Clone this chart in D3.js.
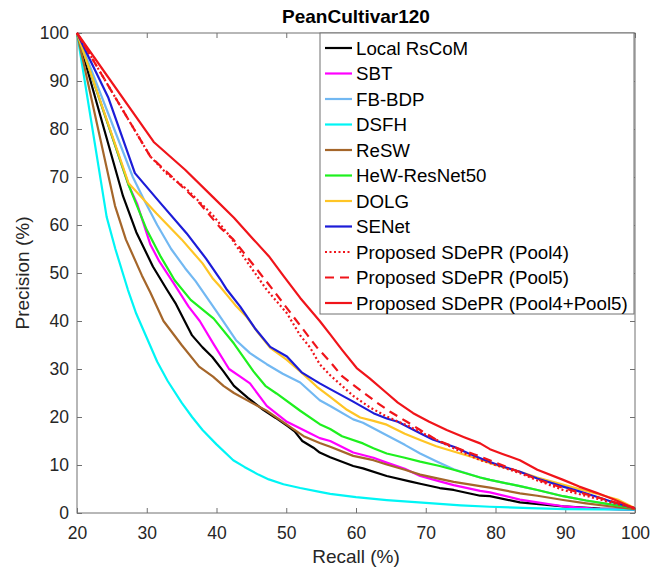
<!DOCTYPE html>
<html>
<head>
<meta charset="utf-8">
<script src="https://cdn.jsdelivr.net/npm/d3@7"></script>
<style>
  body { margin: 0; background: #ffffff; }
  text { font-family: "Liberation Sans", Arial, Helvetica, sans-serif; }
</style>
</head>
<body>
<div id="chart"></div>
<script>

//////////////////////////////////////////////////////////////////////////////
// Data: [recall %, precision %]

var localRsCoM = [[20,100],[26.6,66],[28.5,58.5],[30.9,51.3],[32.9,46.5],[34.2,43.5],[36.5,37],
    [38,34.5],[39.4,32.5],[41,29.5],[42.5,26.5],[44.5,24],[46.7,21.5],[48.5,19.8],[50.3,18],
    [51.2,17],[52.3,15],[53.9,13.6],[54.8,12.6],[56.3,11.6],[59.6,9.8],[61,9.3],[64.4,7.7],
    [67.7,6.6],[69.2,6.1],[72,5.2],[74,4.8],[77.8,3.6],[79.2,3.5],[83.5,2.2],[89.7,1.4],
    [95,0.9],[100,0.7]];

var sbt = [[20,100],[27.4,68.3],[28.6,64.5],[30.5,56],[31.8,52.4],[33.8,48],[36,43],[37.6,40],
    [39.5,35.4],[41.8,30],[43.3,28.5],[44.8,27],[47.2,22.3],[50.1,19],[53.4,16.6],[54.8,15.6],
    [56.3,15],[59.6,12.6],[62.5,11.5],[64.4,10.5],[67,9.2],[69.2,7.7],[72,6.6],[74,5.8],
    [77.8,4.6],[79.2,4.3],[83.5,2.8],[86,2.2],[89.7,1.4],[94,0.9],[100,0.7]];

var fbBdp = [[20,100],[28,70],[29.7,65],[31.5,60],[33.5,55],[35.5,51],[37,48.3],[40,42],
    [42.8,36],[44.8,33.3],[47.2,31],[49.5,29],[52,27.2],[54.8,23.5],[56.3,22.3],[59.6,19.5],
    [61,18.8],[64.4,16.2],[67,14.2],[69.2,12.4],[71.5,10.8],[74,9.1],[77.8,7.4],[79.2,6.9],
    [83.5,5.6],[86,4.8],[89.7,3.5],[93,2.6],[96.9,1.7],[100,1]];

var dsfh = [[20,100],[24.25,61.7],[25.5,55],[27.3,46.5],[28.5,41.5],[30,36.5],[31.5,31.5],
    [33,27.5],[35,23],[36.5,20],[38,17.3],[40,14.3],[42.4,11],[44,9.6],[46,8],[47.5,7],
    [49.6,6],[52,5.2],[54.8,4.4],[56.3,4],[60,3.3],[64.4,2.7],[70,2.1],[75,1.6],[79.2,1.3],
    [85,1],[90,0.8],[100,0.7]];

var resw = [[20,100],[25.45,64],[27,57],[29.3,49.5],[30.5,46],[32.4,40],[35,35],[37.5,30.5],
    [39.5,28.4],[41,26.5],[42.5,25],[45,23],[47.2,21.3],[50.5,18],[52.5,16],[54.8,14.6],
    [56.3,13.8],[59.6,11.9],[62.5,11],[64.4,10.1],[67,9],[69.2,8],[72,7.1],[74,6.5],
    [77.8,5.6],[79.2,5.3],[83.5,4.1],[86,3.6],[89.7,2.7],[93,2],[96.9,1.3],[100,0.8]];

var hewResNet50 = [[20,100],[27.4,68.3],[30,59],[32,53.4],[34,48.5],[36.3,44.4],[39.6,40.5],
    [42.5,35.3],[45.3,29.5],[47,26.5],[48.6,24.9],[52,21.3],[54.8,18.5],[56.3,17.5],[58,16],
    [61,14.5],[62.5,13.5],[64.4,12.4],[67,11.5],[69.2,10.7],[72,9.8],[74,9],[77.8,7.4],
    [79.2,6.9],[83.5,5.6],[86,4.8],[89.7,3.5],[93,2.6],[96.9,1.7],[100,1]];

var dolg = [[20,100],[27.4,68.7],[31.4,62.4],[35,57],[38,52],[39.5,48.8],[40.5,47.2],
    [42.7,43.3],[44.3,40.9],[46,37.5],[47.7,34.4],[50,32],[52,29.5],[54.4,26.3],[56.3,24.2],
    [58.7,21.5],[60.6,19.9],[62.5,19.2],[64.4,18.4],[67,16.5],[69.2,15.2],[71.5,13.9],
    [74,12.8],[77,11.5],[80,10],[83.5,8.6],[86,7.4],[90.7,5.5],[94.5,4],[97.5,2.8],[100,1]];

var seNet = [[20,100],[24.5,86.5],[28.3,70.8],[32,64.5],[35.7,58.3],[38.5,53],[40.5,48.8],
    [41.5,46.5],[43.4,43],[45.5,38.5],[47.7,34.6],[50.1,32.6],[52.2,29.3],[54.8,27],
    [56.3,25.8],[59.6,23.2],[62.5,20.8],[64.4,19.7],[66,19],[69.2,16.6],[71,15.3],[74,13.8],
    [76,12.5],[78.7,10.9],[81,9.7],[83.5,8.6],[86,7.2],[89.7,5.5],[92,4.5],[94.5,3.4],
    [97,2.2],[100,1]];

var sdeprPool4 = [[20,100],[30.5,74.3],[33,70.5],[35.7,67.5],[39.5,62],[42,57.5],[44.3,52.5],
    [47.2,46.5],[50.1,41.6],[52,37],[53.4,34.5],[54.8,31],[56.3,28.7],[59.6,24.4],[62,22],
    [64.4,20.1],[67.7,18],[70.6,15.9],[74,13.5],[77.8,11],[79.2,10.4],[83.5,8.3],[86,6.8],
    [89.7,4.8],[94.5,3],[97,2],[100,1]];

var sdeprPool5 = [[20,100],[30.5,74.3],[34,69.5],[37.6,64.5],[40.5,59.5],[42.4,57],[44.3,53.5],
    [46.2,50],[48.1,46.5],[51.5,40],[54.4,34.5],[56.3,31.5],[58,28.5],[60.6,25.6],[63,23],
    [64.9,21.1],[67.3,19],[69.2,17.3],[71.6,15.2],[74,13.8],[77,12.2],[80,10.5],[83.5,8.5],
    [86,7],[89.7,5.2],[94.5,3.3],[97,2.3],[100,1]];

var sdeprPool45 = [[20,100],[31,77.3],[35.5,71.5],[39.5,65.8],[42.5,61.5],[45.3,57],[47.5,53.5],
    [49.6,49.4],[52,44.8],[54.8,40],[56.3,37.2],[58,34],[60.1,30.2],[62,28],[64.4,25],[66,23],
    [68.2,20.8],[70.5,19],[73,17.3],[75.5,15.8],[77.8,14.5],[79.2,13.3],[81,12.3],[83.5,11],
    [86,9],[89.7,6.9],[92,5.5],[94.5,4.2],[97,2.8],[100,0.9]];

var seriesNames = ["Local RsCoM", "SBT", "FB-BDP", "DSFH", "ReSW", "HeW-ResNet50", "DOLG",
    "SENet", "Proposed SDePR (Pool4)", "Proposed SDePR (Pool5)", "Proposed SDePR (Pool4+Pool5)"];
var seriesData = [localRsCoM, sbt, fbBdp, dsfh, resw, hewResNet50, dolg, seNet,
    sdeprPool4, sdeprPool5, sdeprPool45];
var seriesColors = ["#000000", "#ff00ff", "#72b8f2", "#00f5f5", "#a5662a", "#1ef01e", "#ffc525",
    "#1c1cd8", "#f0141a", "#f0141a", "#f0141a"];
var seriesDash = [null, null, null, null, null, null, null, null, "2,2.5", "9,6", null];

var xTicks = [20, 30, 40, 50, 60, 70, 80, 90, 100];
var yTicks = [0, 10, 20, 30, 40, 50, 60, 70, 80, 90, 100];

//////////////////////////////////////////////////////////////////////////////
// Layout

var width = 660, height = 575;
var plot = {left: 77, right: 635, top: 33, bottom: 513};
var axisGray = "#707070";
var textColor = "#262626";

var xScale = d3.scaleLinear().domain([20, 100]).range([plot.left, plot.right]);
var yScale = d3.scaleLinear().domain([0, 100]).range([plot.bottom, plot.top]);

var svg = d3.select("#chart")
    .append("svg")
    .attr("width", width)
    .attr("height", height);

// axes, MATLAB style: ticks pointing inwards on all four sides
svg.append("g")
    .attr("transform", "translate(0," + plot.bottom + ")")
    .call(d3.axisBottom(xScale).tickValues(xTicks).tickSizeInner(-5).tickSizeOuter(0).tickPadding(14))
    .call(styleAxis);

svg.append("g")
    .attr("transform", "translate(" + plot.left + ",0)")
    .call(d3.axisLeft(yScale).tickValues(yTicks).tickSizeInner(-5).tickSizeOuter(0).tickPadding(8))
    .call(styleAxis);

svg.append("g")
    .attr("transform", "translate(0," + plot.top + ")")
    .call(d3.axisTop(xScale).tickValues(xTicks).tickSizeInner(-5).tickSizeOuter(0).tickFormat(""))
    .call(styleAxis);

svg.append("g")
    .attr("transform", "translate(" + plot.right + ",0)")
    .call(d3.axisRight(yScale).tickValues(yTicks).tickSizeInner(-5).tickSizeOuter(0).tickFormat(""))
    .call(styleAxis);

function styleAxis(g) {
    g.select(".domain").remove();
    g.selectAll(".tick line").attr("stroke", axisGray);
    g.selectAll(".tick text")
        .attr("fill", textColor)
        .style("font-size", "17.5px")
        .style("font-family", "'Liberation Sans', Arial, sans-serif");
}

svg.append("rect")
    .attr("x", plot.left)
    .attr("y", plot.top)
    .attr("width", plot.right - plot.left)
    .attr("height", plot.bottom - plot.top)
    .attr("fill", "none")
    .attr("stroke", axisGray)
    .attr("stroke-width", 1);

// curves
var line = d3.line()
    .x(function(d) { return xScale(d[0]); })
    .y(function(d) { return yScale(d[1]); });

svg.append("g")
    .selectAll("path")
    .data(seriesData)
    .enter()
    .append("path")
    .attr("d", line)
    .attr("fill", "none")
    .attr("stroke", function(d, i) { return seriesColors[i]; })
    .attr("stroke-width", 2.2)
    .attr("stroke-linejoin", "round")
    .attr("stroke-dasharray", function(d, i) { return seriesDash[i]; });

// titles
svg.append("text")
    .attr("x", (plot.left + plot.right) / 2)
    .attr("y", 23)
    .attr("text-anchor", "middle")
    .attr("fill", "#000")
    .style("font-size", "19px")
    .style("font-weight", "bold")
    .text("PeanCultivar120");

svg.append("text")
    .attr("x", (plot.left + plot.right) / 2)
    .attr("y", 563)
    .attr("text-anchor", "middle")
    .attr("fill", textColor)
    .style("font-size", "19px")
    .text("Recall (%)");

svg.append("text")
    .attr("transform", "translate(28.5," + (plot.top + plot.bottom) / 2 + ") rotate(-90)")
    .attr("text-anchor", "middle")
    .attr("fill", textColor)
    .style("font-size", "19px")
    .text("Precision (%)");

// legend
var legendBox = {x: 320, y: 33, w: 314, h: 281};
var legendRow = 25.5;

svg.append("rect")
    .attr("x", legendBox.x)
    .attr("y", legendBox.y)
    .attr("width", legendBox.w)
    .attr("height", legendBox.h)
    .attr("fill", "#ffffff")
    .attr("stroke", axisGray)
    .attr("stroke-width", 1);

var legendItems = svg.append("g")
    .selectAll("g")
    .data(seriesNames)
    .enter()
    .append("g")
    .attr("transform", function(d, i) {
        return "translate(" + legendBox.x + "," + (legendBox.y + 15 + i * legendRow) + ")";
    });

legendItems.append("line")
    .attr("x1", 5)
    .attr("x2", 32)
    .attr("stroke", function(d, i) { return seriesColors[i]; })
    .attr("stroke-width", 2.2)
    .attr("stroke-dasharray", function(d, i) { return seriesDash[i]; });

legendItems.append("text")
    .attr("x", 36)
    .attr("dy", "0.35em")
    .attr("fill", "#000")
    .style("font-size", "18.7px")
    .text(function(d) { return d; });

</script>
</body>
</html>
